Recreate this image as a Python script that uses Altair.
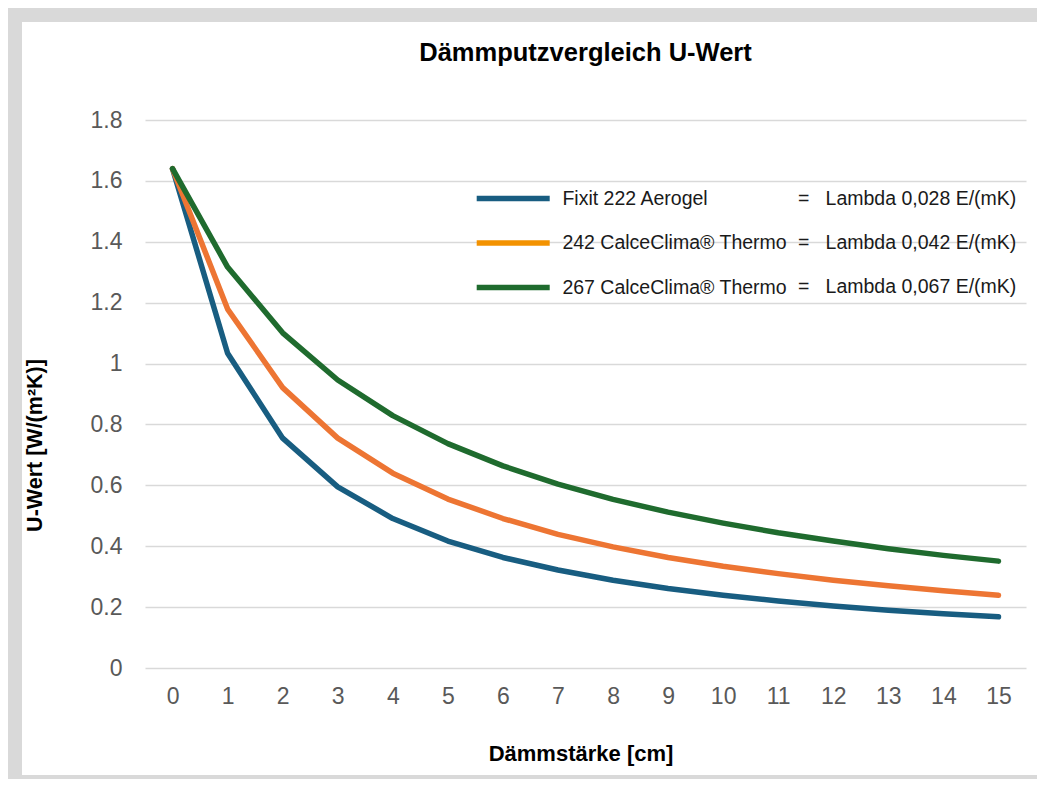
import altair as alt
import pandas as pd

# ---- data ----
thickness = [0, 1, 2, 3, 4, 5, 6, 7, 8, 9, 10, 11, 12, 13, 14, 15]
names = ["Fixit 222 Aerogel", "242 CalceClima® Thermo", "267 CalceClima® Thermo"]
lambdas = ["Lambda 0,028 E/(mK)", "Lambda 0,042 E/(mK)", "Lambda 0,067 E/(mK)"]
fixit = [1.64, 1.034, 0.755, 0.595, 0.491, 0.417, 0.363, 0.322, 0.288, 0.261,
         0.239, 0.220, 0.204, 0.190, 0.178, 0.168]
calce242 = [1.64, 1.179, 0.921, 0.755, 0.640, 0.555, 0.491, 0.439, 0.398, 0.363,
            0.334, 0.310, 0.288, 0.270, 0.254, 0.239]
calce267 = [1.64, 1.317, 1.101, 0.946, 0.829, 0.737, 0.664, 0.604, 0.554, 0.512,
            0.476, 0.444, 0.417, 0.392, 0.370, 0.351]
y_ticks = [0, 0.2, 0.4, 0.6, 0.8, 1, 1.2, 1.4, 1.6, 1.8]

line_colors = ["#185d81", "#ed7533", "#1f6b2e"]
legend_colors = ["#185d81", "#f39200", "#1f6b2e"]

rows = []
for name, lam, series in zip(names, lambdas, [fixit, calce242, calce267]):
    for d, u in zip(thickness, series):
        rows.append({"d": d, "u": u, "name": name, "lam": "=\u00a0\u00a0\u00a0" + lam})
df = pd.DataFrame(rows)
lam_labels = ["=\u00a0\u00a0\u00a0" + l for l in lambdas]

FONT = "Liberation Sans"
W, H = 881, 548

x_enc = alt.X(
    "d:O",
    scale=alt.Scale(domain=thickness),
    axis=alt.Axis(
        title="Dämmstärke [cm]", labelAngle=0, ticks=False, domain=False, grid=False,
        labelFontSize=23, labelColor="#595959", labelFont=FONT, labelPadding=28,
        labelBaseline="middle",
        titleFont=FONT, titleFontSize=22, titleFontWeight="bold", titleColor="#000000",
        titleBaseline="alphabetic", titleAlign="center", titleX=435.5, titleY=92,
    ),
)
y_enc = alt.Y(
    "u:Q",
    scale=alt.Scale(domain=[0, 1.8], nice=False),
    axis=alt.Axis(
        title="U-Wert [W/(m²K)]", values=y_ticks, labelExpr="format(datum.value, '~g')",
        ticks=False, domain=False, grid=True, gridColor="#d9d9d9", gridWidth=1.5,
        labelFontSize=23, labelColor="#595959", labelFont=FONT, labelPadding=23,
        titleFont=FONT, titleFontSize=21.5, titleFontWeight="bold", titleColor="#000000",
        titleAngle=270, titleAlign="center", titleBaseline="alphabetic",
        titleX=-104, titleY=325,
    ),
)

frame = alt.Chart(pd.DataFrame({"f": [0]})).mark_rect(
    fillOpacity=0, stroke="#d9d9d9", strokeWidth=14
).encode(
    x=alt.value(-130), x2=alt.value(912), y=alt.value(-105), y2=alt.value(662)
)

# wide custom stroke symbol: drawn 73px long, but laid out as a small symbol
SYM = "M-5,0H5"
legend_common = dict(
    title=None, orient="none", symbolType=SYM, symbolSize=213.16,
    symbolStrokeWidth=5.5, labelOffset=38.7,
    labelFontSize=19.5, labelFont=FONT, labelColor="#1a1a1a",
    padding=0, labelLimit=500,
)

legend_names = alt.Chart(df).transform_filter("false").mark_line().encode(
    x=x_enc, y=y_enc,
    stroke=alt.Stroke(
        "name:N", sort=None,
        scale=alt.Scale(domain=names, range=legend_colors),
        legend=alt.Legend(legendX=357.7, legendY=68, rowPadding=21.5, **legend_common),
    ),
)

legend_lams = alt.Chart(df).transform_filter("false").mark_line().encode(
    x=x_enc, y=y_enc,
    strokeDash=alt.StrokeDash(
        "lam:N", sort=None,
        scale=alt.Scale(domain=lam_labels),
        legend=alt.Legend(legendX=593.2, legendY=68, rowPadding=24,
                          symbolOpacity=0, **legend_common),
    ),
)

lines = alt.Chart(df).mark_line(
    strokeWidth=5.5, strokeCap="round", strokeJoin="round"
).encode(
    x=x_enc, y=y_enc,
    color=alt.Color("name:N", sort=None,
                    scale=alt.Scale(domain=names, range=line_colors), legend=None),
)

chart = alt.layer(frame, legend_names, legend_lams, lines).properties(
    width=W, height=H,
    autosize=alt.AutoSizeParams(type="none"),
    padding={"left": 137, "top": 112, "right": 11, "bottom": 111},
    background="white",
    title=alt.TitleParams(
        "Dämmputzvergleich U-Wert", font=FONT, fontSize=25.5, fontWeight="bold",
        color="#000000", anchor="middle", baseline="alphabetic", offset=-78,
        frame="group",
    ),
).configure_view(stroke=None)

chart.save("out.html", embed_options={"renderer": "svg", "actions": False})
